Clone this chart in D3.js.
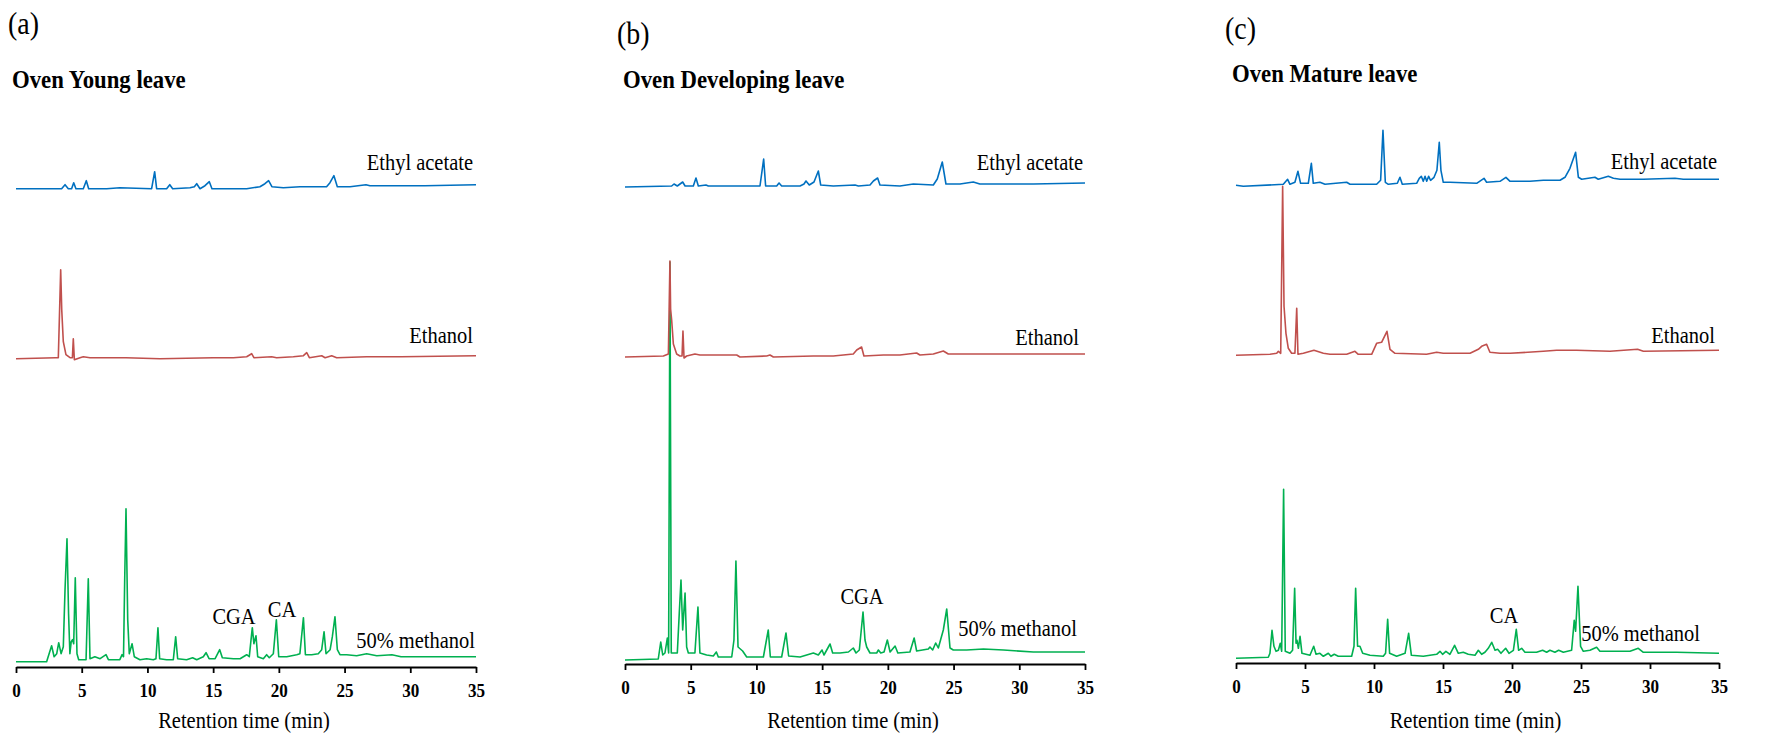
<!DOCTYPE html>
<meta charset="utf-8">
<script src="https://d3js.org/d3.v7.min.js"></script>
<style>
  body { margin: 0; background: #fff; }
  text { font-family: "Liberation Serif", "Times New Roman", serif; fill: #000; }
  .tick text { font-weight: bold; font-size: 19px; }
  .axis path, .axis line { stroke: #000; stroke-width: 1.8px; }
</style>
<div id="area"></div>
<script>
// retention time ticks (min)
var minutes = [0, 5, 10, 15, 20, 25, 30, 35];

var panelTags = ["(a)", "(b)", "(c)"];
var panelTitles = ["Oven Young leave", "Oven Developing leave", "Oven Mature leave"];

// order: top to bottom
var solvents = ["Ethyl acetate", "Ethanol", "50% methanol"];
var solventColors = ["#0070c0", "#c0504d", "#00b050"];
var stackOffsets = [473, 303, 0];

// peak annotations per panel
var markerNames = [["CGA", "CA"], ["CGA"], ["CA"]];

// chromatograms, [time (min), signal]
var youngEthyl = [[0,0],[3.47,0],[3.73,4],[3.98,0],[4.23,0],[4.39,6],[4.56,0],[5.12,0],[5.35,8],[5.53,0],[6.9,0],[7.9,1],[10.32,0],[10.55,17],[10.7,0],[11.46,0],[11.7,4],[11.92,0],[13.24,1],[13.57,2],[13.75,5],[14.0,0],[14.38,3],[14.71,7],[14.91,0],[16.0,0],[17.55,0],[18.56,2],[18.94,5],[19.22,8],[19.47,2],[20.34,1],[21.61,2],[22.62,2],[23.63,2],[23.89,6],[24.19,13],[24.45,2],[25.42,2],[26.63,4],[26.93,3],[31.1,3],[35,4]];
var youngEthanol = [[0,0],[3.0,1],[3.22,1],[3.4,89],[3.48,49],[3.6,17],[3.8,4],[4.11,1],[4.29,1],[4.36,20],[4.44,-1],[4.87,1],[5.12,2],[5.63,1],[8.37,1],[10.96,0],[15.0,1],[16.54,1],[17.55,2],[17.93,5],[18.1,1],[19.45,2],[19.83,1],[21.1,2],[21.87,3],[22.12,6],[22.32,1],[23.26,3],[23.52,1],[24.02,3],[24.4,1],[26.68,2],[29.3,2],[35,3]];
var youngMethanol = [[0,0],[2.33,0],[2.71,16],[2.9,5],[3.1,8],[3.25,19],[3.43,8],[3.6,15],[3.73,72],[3.88,123],[4.0,48],[4.1,8],[4.2,20],[4.3,22],[4.39,18],[4.51,84],[4.64,8],[4.77,2],[5.33,2],[5.5,83],[5.63,3],[6.0,5],[6.4,3],[6.85,7],[7.03,2],[7.9,2],[8.07,7],[8.18,5],[8.27,82],[8.37,153],[8.5,42],[8.62,8],[8.83,18],[9.0,5],[9.43,2],[9.94,3],[10.45,2],[10.65,3],[10.8,34],[10.93,3],[11.46,2],[11.97,2],[12.15,25],[12.3,3],[12.98,2],[13.44,4],[13.75,2],[14.25,5],[14.46,9],[14.69,3],[15.15,3],[15.5,12],[15.7,4],[16.54,3],[17.05,3],[17.55,7],[17.75,5],[17.98,34],[18.1,18],[18.26,26],[18.39,5],[18.82,3],[19.07,7],[19.27,4],[19.58,8],[19.81,42],[19.99,5],[20.6,5],[21.36,7],[21.6,8],[21.87,44],[22.02,7],[22.5,7],[23.0,8],[23.26,12],[23.44,30],[23.59,8],[23.9,12],[24.07,25],[24.27,45],[24.45,12],[24.65,7],[25.16,7],[25.92,6],[26.68,8],[27.45,6],[28.6,7],[29.3,5],[31.8,5],[35,5]];

var devEthyl = [[0,0],[3.55,1],[3.73,3],[3.98,1],[4.39,5],[4.57,1],[5.2,1],[5.4,9],[5.58,1],[6.16,2],[6.34,1],[10.27,1],[10.55,28],[10.7,1],[11.54,1],[11.72,4],[11.92,1],[13.32,1],[13.62,3],[13.77,6],[14.02,2],[14.38,5],[14.71,16],[14.89,2],[15.85,1],[17.5,2],[17.76,1],[18.64,2],[18.9,6],[19.22,9],[19.4,2],[20.92,1],[21.94,3],[23.46,2],[23.76,8],[24.14,25],[24.42,3],[25.49,3],[26.5,5],[27.0,3],[31.07,3],[35,4]];
var devEthanol = [[0,0],[2.92,1],[3.3,3],[3.42,96],[3.47,48],[3.55,37],[3.68,13],[3.93,3],[4.18,1],[4.34,1],[4.41,26],[4.49,-1],[4.69,1],[5.32,3],[5.7,2],[8.5,2],[8.75,0],[10.78,1],[11.03,2],[11.29,0],[14.33,1],[15.85,1],[17.37,3],[17.63,7],[18.0,10],[18.18,1],[19.66,2],[20.92,2],[22.19,4],[22.44,2],[23.46,3],[24.22,6],[24.6,3],[26.0,3],[28.53,3],[31.07,3],[35,3]];
var devMethanol = [[0,0],[2.53,1],[2.72,18],[2.87,5],[3.04,7],[3.22,22],[3.32,7],[3.42,398],[3.52,7],[3.98,7],[4.13,47],[4.26,80],[4.39,30],[4.57,67],[4.69,13],[4.82,7],[5.32,7],[5.55,53],[5.7,7],[6.21,5],[6.72,4],[6.95,8],[7.1,3],[8.12,3],[8.29,20],[8.44,99],[8.6,13],[8.95,9],[9.26,3],[10.53,3],[10.9,30],[11.06,3],[11.92,3],[12.25,27],[12.45,4],[13.32,3],[14.33,7],[14.71,5],[14.99,10],[15.14,5],[15.6,16],[15.8,7],[16.36,7],[17.0,8],[17.37,12],[17.58,7],[17.83,10],[18.11,48],[18.26,20],[18.39,13],[18.64,7],[19.15,7],[19.28,10],[19.46,7],[19.71,8],[19.96,20],[20.17,8],[20.55,14],[20.76,7],[21.68,8],[22.0,22],[22.19,9],[23.08,11],[23.2,13],[23.41,10],[23.64,17],[23.84,12],[24.22,30],[24.48,51],[24.73,12],[24.98,10],[26.0,10],[27.27,11],[28.8,10],[31.07,8],[35,8]];

var matureEthyl = [[0,0],[0.53,-1],[3.43,1],[3.74,6],[3.91,1],[4.27,3],[4.49,14],[4.68,2],[5.24,2],[5.46,22],[5.6,2],[6.08,3],[6.45,1],[8.02,3],[8.26,1],[10.19,1],[10.48,5],[10.65,55],[10.82,3],[11.04,1],[11.69,2],[11.88,8],[12.05,1],[13.09,2],[13.28,7],[13.43,9],[13.57,4],[13.7,9],[13.82,4],[13.96,9],[14.1,5],[14.35,8],[14.56,15],[14.73,43],[14.85,15],[15.02,3],[15.5,3],[17.44,2],[17.97,7],[18.16,3],[19.13,4],[19.56,8],[19.86,4],[21.3,4],[22.27,5],[23.48,5],[23.84,8],[24.2,17],[24.61,33],[24.81,8],[25.05,6],[26.01,8],[26.25,6],[26.98,9],[27.35,7],[27.83,6],[29.52,6],[31.81,7],[32.41,6],[35,6]];
var matureEthanol = [[0,0],[2.46,1],[2.95,2],[3.07,4],[3.24,2],[3.38,169],[3.48,49],[3.62,22],[3.79,7],[4.03,2],[4.27,2],[4.4,47],[4.49,1],[4.88,2],[5.65,5],[6.33,2],[6.81,1],[8.02,1],[8.62,4],[8.86,1],[9.83,1],[10.19,12],[10.55,13],[10.94,24],[11.16,6],[11.52,2],[13.81,1],[14.54,3],[15.02,2],[15.5,2],[16.96,2],[17.56,6],[17.8,9],[18.16,11],[18.4,3],[19.13,2],[19.86,2],[22.27,4],[23.23,5],[24.68,5],[27.1,4],[29.1,6],[29.52,4],[35,5]];
var matureMethanol = [[0,0],[2.34,1],[2.46,5],[2.61,28],[2.75,12],[2.9,7],[3.07,8],[3.21,15],[3.31,7],[3.45,169],[3.57,7],[3.91,5],[4.1,8],[4.25,70],[4.35,15],[4.42,18],[4.52,10],[4.64,22],[4.78,5],[5.36,3],[5.63,12],[5.8,4],[6.08,5],[6.33,2],[6.69,5],[6.88,2],[7.12,4],[7.41,2],[8.38,2],[8.55,12],[8.67,70],[8.81,12],[8.98,12],[9.18,5],[9.71,3],[10.67,2],[10.84,5],[10.99,39],[11.13,5],[11.64,2],[12.25,5],[12.51,25],[12.71,3],[13.57,2],[14.54,4],[14.78,7],[14.97,4],[15.21,7],[15.5,4],[15.84,13],[16.11,5],[16.47,6],[16.83,4],[17.32,3],[17.56,8],[17.8,4],[18.04,6],[18.28,10],[18.53,16],[18.77,8],[18.96,9],[19.2,5],[19.54,10],[19.78,5],[20.1,8],[20.31,29],[20.48,8],[20.7,10],[20.94,6],[21.78,6],[22.22,8],[22.51,6],[22.75,8],[23.11,6],[23.38,8],[23.72,6],[24.32,8],[24.51,38],[24.61,27],[24.78,72],[24.97,12],[25.17,7],[25.65,8],[26.13,11],[26.37,7],[27.1,7],[28.55,7],[29.15,10],[29.52,6],[31.93,6],[35,5]];

var traces = [
  [youngEthyl, youngEthanol, youngMethanol],
  [devEthyl, devEthanol, devMethanol],
  [matureEthyl, matureEthanol, matureMethanol]
];

// where each panel sits on the page
var layout = [
  {x0: 16, x1: 476, axisY: 667, baseY: 661.7, tag: [8, 34], title: [12, 88],
   labels: [[473, 170], [473, 343], [475, 648]], marks: [[234, 624], [282, 617]]},
  {x0: 625, x1: 1085, axisY: 664, baseY: 660, tag: [617, 44], title: [623, 88],
   labels: [[1083, 170], [1079, 345], [1077, 636]], marks: [[862, 604]]},
  {x0: 1236, x1: 1719, axisY: 663, baseY: 658.3, tag: [1225, 39], title: [1232, 82],
   labels: [[1717, 169], [1715, 343], [1700, 641]], marks: [[1504, 623]]}
];

var svg = d3.select("#area")
  .append("svg")
    .attr("width", 1778)
    .attr("height", 734);

// the source figure's lettering is a little narrow, so squeeze it
function label(g, pos, txt, size, sx, anchor, bold) {
  return g.append("text")
    .attr("transform", "translate(" + pos[0] + "," + pos[1] + ") scale(" + sx + ",1)")
    .attr("text-anchor", anchor || "start")
    .style("font-size", size + "px")
    .style("font-weight", bold ? "bold" : "normal")
    .text(txt);
}

layout.forEach(function(p, i) {
  var x = d3.scaleLinear().domain([0, 35]).range([p.x0, p.x1]);
  var y = d3.scaleLinear().domain([0, 500]).range([p.baseY, p.baseY - 500]);
  var g = svg.append("g");

  label(g, p.tag, panelTags[i], 31, 0.9);
  label(g, p.title, panelTitles[i], 24.5, 0.93, "start", true);

  // X axis
  var ax = g.append("g")
    .attr("class", "axis")
    .attr("transform", "translate(0," + p.axisY + ")")
    .call(d3.axisBottom(x).tickValues(minutes).tickSize(6).tickSizeOuter(0).tickFormat(d3.format("d")));
  ax.selectAll(".tick text").attr("y", 16.5).attr("transform", "scale(0.9,1)");

  label(g, [(p.x0 + p.x1) / 2 - 2, 728], "Retention time (min)", 22.5, 0.91, "middle");

  // traces, bottom one first so the upper ones sit on top
  [2, 1, 0].forEach(function(k) {
    var line = d3.line()
      .x(function(d) { return x(d[0]); })
      .y(function(d) { return y(d[1] + stackOffsets[k]); });
    g.append("path")
      .datum(traces[i][k])
      .attr("d", line)
      .attr("fill", "none")
      .attr("stroke", solventColors[k])
      .attr("stroke-width", 1.6)
      .attr("stroke-linejoin", "round");
  });

  solvents.forEach(function(s, k) {
    label(g, p.labels[k], s, 23, 0.89, "end");
  });

  markerNames[i].forEach(function(m, k) {
    label(g, p.marks[k], m, 23, 0.89, "middle");
  });
});
</script>
